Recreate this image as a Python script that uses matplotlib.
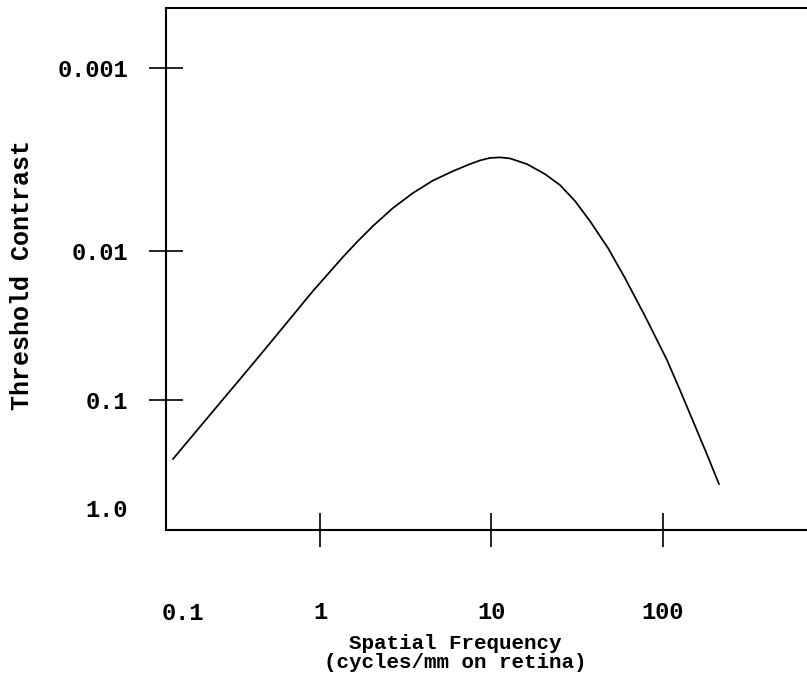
import matplotlib
matplotlib.use("Agg")
import matplotlib.pyplot as plt

# curve: spatial frequency (cycles/mm) vs threshold contrast
freq = [0.139, 0.244, 0.424, 0.625, 0.910, 1.362, 1.665, 2.037, 2.666, 3.485,
        4.559, 5.965, 7.492, 8.568, 9.80, 11.21, 12.82, 16.11, 20.51, 25.08,
        30.69, 37.52, 47.78, 60.03, 78.52, 105.5, 125.6, 149.6, 178.1, 212.1]
contrast = [0.1370, 0.0730, 0.0394, 0.02537, 0.01654, 0.01078, 0.00882, 0.00730,
            0.00582, 0.00482, 0.00412, 0.00366, 0.00335, 0.00320, 0.00310,
            0.00308, 0.00312, 0.00335, 0.00380, 0.00436, 0.00533, 0.00686,
            0.00963, 0.01405, 0.02265, 0.0394, 0.0575, 0.0849, 0.1254, 0.1876]

xtick_vals = [1, 10, 100]
xtick_labels = ['1', '10', '100']
ytick_vals = [0.001, 0.01, 0.0652]
ytick_labels = ['0.001', '0.01', '0.1']

font = 'Liberation Mono'

fig = plt.figure(figsize=(8.07, 6.82), dpi=100)
ax = fig.add_axes([166/807, 152/682, 1 - 166/807, 522/682])

ax.plot(freq, contrast, color='black', lw=1.25)
ax.set_xscale('log')
ax.set_yscale('log')
ax.set_xlim(10**-0.898, 10**2.84)
ax.set_ylim(10**-0.475, 10**-3.328)   # inverted: small contrast at top
ax.minorticks_off()

ax.set_xticks(xtick_vals)
ax.set_xticklabels(xtick_labels)
ax.set_yticks(ytick_vals)
ax.set_yticklabels(ytick_labels)
ax.tick_params(axis='both', direction='inout', width=1.2, colors='black')
ax.tick_params(axis='x', length=24, pad=39)
ax.tick_params(axis='y', length=24.5, pad=15)
for lab in ax.get_xticklabels() + ax.get_yticklabels():
    lab.set_fontfamily(font)
    lab.set_fontweight('bold')
    lab.set_fontsize(17)

ax.spines['right'].set_visible(False)
for s in ['left', 'bottom', 'top']:
    ax.spines[s].set_linewidth(1.5)

# labels that sit off the tick marks
ax.text(0.0265, -0.160, '0.1', transform=ax.transAxes, ha='center', va='center',
        family=font, weight='bold', fontsize=17)
ax.text(-0.060, 0.038, '1.0', transform=ax.transAxes, ha='right', va='center',
        family=font, weight='bold', fontsize=17)

fig.text(455/807, 1 - 653/682, 'Spatial Frequency\n(cycles/mm on retina)',
         ha='center', va='center', multialignment='center',
         family=font, weight='bold', fontsize=15, linespacing=0.95)
fig.text(22/807, 1 - 275/682, 'Threshold Contrast', rotation=90,
         ha='center', va='center', family=font, weight='bold', fontsize=18)

fig.savefig('out.png', dpi=100)
